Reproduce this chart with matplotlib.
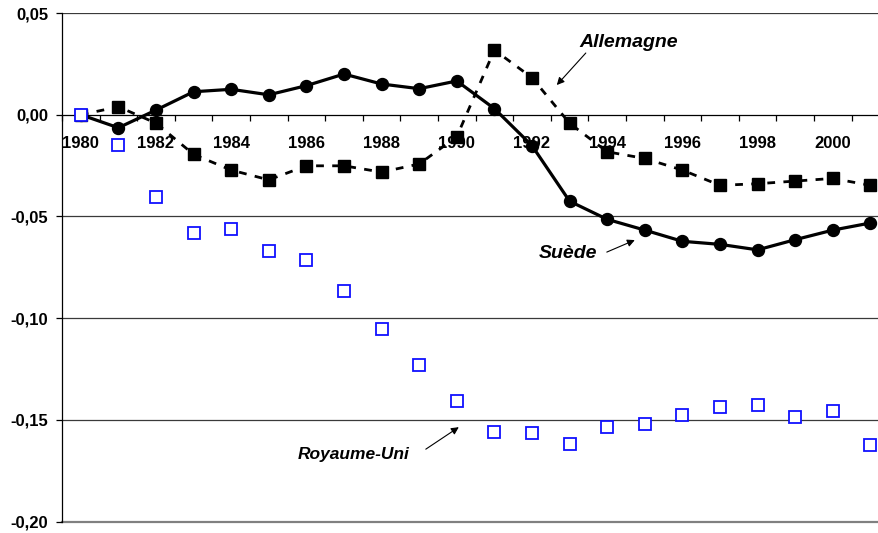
import matplotlib
matplotlib.use("Agg")
import matplotlib.pyplot as plt
from matplotlib.ticker import FixedLocator, FuncFormatter

plt.rcParams['font.family'] = ['Liberation Sans', 'DejaVu Sans']

years = list(range(1980, 2002))
suede = [0.0, -0.0064, 0.0023, 0.0113, 0.0125, 0.0098, 0.0143, 0.0200, 0.0151, 0.0128,
         0.0166, 0.0030, -0.0152, -0.0425, -0.0514, -0.0567, -0.0622, -0.0637, -0.0664,
         -0.0614, -0.0567, -0.0532]
allemagne = [0.0, 0.0039, -0.0041, -0.0195, -0.0272, -0.0320, -0.0251, -0.0251, -0.0282,
             -0.0242, -0.0108, 0.0318, 0.0182, -0.0042, -0.0182, -0.0215, -0.0272, -0.0347,
             -0.0339, -0.0326, -0.0313, -0.0347]
royaume_uni = [0.0, -0.0149, -0.0403, -0.0580, -0.0562, -0.0670, -0.0716, -0.0867, -0.1055,
               -0.1229, -0.1407, -0.1561, -0.1565, -0.1619, -0.1535, -0.1521, -0.1476,
               -0.1434, -0.1427, -0.1485, -0.1455, -0.1624]
year_labels = [str(y) for y in range(1980, 2001, 2)]
y_ticks = [0.05, 0.0, -0.05, -0.10, -0.15, -0.20]

W, H = 879, 533
fig = plt.figure(figsize=(W / 100, H / 100), dpi=100)
left_px, right_px, top_px, bot_px = 62, 62 + 22 * 37.6, 13, 521.7
ax = fig.add_axes([left_px / W, 1 - bot_px / H, (right_px - left_px) / W, (bot_px - top_px) / H])

x = list(range(len(years)))

for v in [0.05, -0.05, -0.10, -0.15]:
    ax.axhline(v, color='#3a3a3a', lw=0.9, zorder=1)
ax.axhline(-0.20, color='#808080', lw=1.6, zorder=1, clip_on=False)

ax.plot(x, allemagne, color='black', lw=2.0, dashes=[2.8, 3.0], marker='s', ms=9.2,
        mfc='black', mec='black', zorder=3)
ax.plot(x, suede, color='black', lw=2.3, marker='o', ms=8.6, mfc='black', mec='black', zorder=4)
ax.plot(x, royaume_uni, ls='none', marker='s', ms=9.2, mfc='white', mec='#1010ff', mew=1.3, zorder=5)

ax.set_xlim(-0.5, 21.5)
ax.set_ylim(-0.20, 0.05)

for s in ['top', 'right']:
    ax.spines[s].set_visible(False)
ax.spines['bottom'].set_position(('data', 0))
ax.spines['bottom'].set_color('black')
ax.spines['bottom'].set_linewidth(0.9)
ax.spines['left'].set_color('black')
ax.spines['left'].set_linewidth(0.9)

ax.xaxis.set_major_locator(FixedLocator([k - 0.5 for k in range(23)]))
ax.xaxis.set_major_formatter(FuncFormatter(lambda v, p: ''))
ax.xaxis.set_minor_locator(FixedLocator(list(range(0, 21, 2))))
ax.set_xticklabels(year_labels, minor=True, fontsize=12, fontweight='bold')
ax.tick_params(axis='x', which='major', direction='out', length=4, width=0.9, color='black')
ax.tick_params(axis='x', which='minor', length=0, pad=15.5)

ax.set_yticks(y_ticks)
ax.yaxis.set_major_formatter(FuncFormatter(lambda v, p: f"{v:.2f}".replace('.', ',').replace('-0,00', '0,00')))
ax.tick_params(axis='y', direction='out', length=4, width=0.9, pad=6, labelsize=12)
for t in ax.get_yticklabels():
    t.set_fontweight('bold')

fx = lambda px: (px - 81) / 37.6
fy = lambda py: (114.7 - py) * 0.05 / 101.7

aprops = dict(arrowstyle='-|>', color='black', lw=0.8, mutation_scale=11, shrinkA=0, shrinkB=0)

ax.text(fx(628.5), fy(42), 'Allemagne', fontsize=14, fontweight='bold', style='italic',
        ha='center', va='center')
ax.annotate('', xy=(fx(557), fy(85)), xytext=(fx(586), fy(53)), arrowprops=aprops)

ax.text(fx(568), fy(253), 'Suède', fontsize=14, fontweight='bold', style='italic',
        ha='center', va='center')
ax.annotate('', xy=(fx(635), fy(240)), xytext=(fx(607), fy(252)), arrowprops=aprops)

ax.text(fx(353.5), fy(454), 'Royaume-Uni', fontsize=12.5, fontweight='bold', style='italic',
        ha='center', va='center')
ax.annotate('', xy=(fx(459), fy(427)), xytext=(fx(426), fy(449)), arrowprops=aprops)

fig.savefig('out.png', dpi=100)
